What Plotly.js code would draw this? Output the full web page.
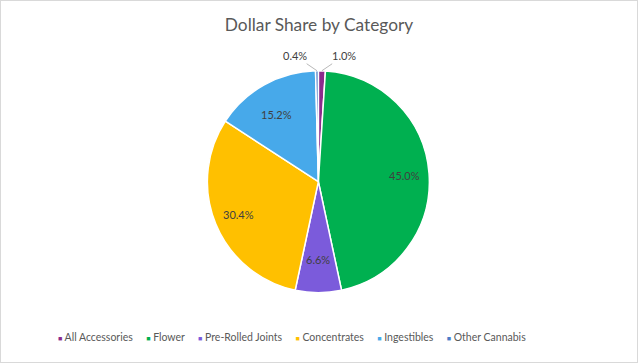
<!DOCTYPE html>
<html><head><meta charset="utf-8">
<script src="https://cdn.plot.ly/plotly-3.0.1.min.js"></script>
<style>
html,body{margin:0;padding:0;background:#fff;}
#chart{width:636px;height:361px;border:1px solid #d9d9d9;}
</style></head>
<body><div id="chart"></div>
<script>
const categories = ["All Accessories","Flower","Pre-Rolled Joints","Concentrates","Ingestibles","Other Cannabis"];
const shares = [1.0, 45.0, 6.6, 30.4, 15.2, 0.4];
const colors = ["#8A2B8C","#00B050","#7B5BDB","#FFC000","#47A9EA","#4A7CC8"];
const labelsText = shares.map(v => v.toFixed(1) + "%");

const W = 636, H = 361;
const dom = {x: [0.3245, 0.6735], y: [0.192, 0.807]};
const FONT = "Lato, 'Open Sans', sans-serif";

const trace = {
  type: "pie",
  labels: categories,
  values: shares,
  text: labelsText,
  textinfo: "none",
  hoverinfo: "label+text",
  sort: false,
  direction: "clockwise",
  rotation: 0,
  marker: {colors: colors, line: {color: "#ffffff", width: 1.5}},
  domain: dom,
  automargin: false,
  showlegend: false
};

// data labels placed from the slice angles
const total = shares.reduce((a, b) => a + b, 0);
const cx = (dom.x[0] + dom.x[1]) / 2, cy = (dom.y[0] + dom.y[1]) / 2;
const R = Math.min((dom.x[1] - dom.x[0]) * W, (dom.y[1] - dom.y[0]) * H) / 2;
const annotations = [];
let cum = 0;
shares.forEach((v, i) => {
  const mid = (cum + v / 2) / total * 2 * Math.PI;
  cum += v;
  const small = v / total < 0.03;
  const rr = small ? R : R * 0.78;
  const ax = cx + rr * Math.sin(mid) / W;
  const ay = cy + rr * Math.cos(mid) / H;
  const a = {x: ax, y: ay, xref: "paper", yref: "paper", text: labelsText[i],
    font: {family: FONT, size: 11, color: "#404040"}, showarrow: false};
  if (small) {
    const side = Math.sin(mid) >= 0 ? 1 : -1;
    Object.assign(a, {showarrow: true, arrowhead: 0, arrowwidth: 0.8, arrowcolor: "#a6a6a6",
      ax: side * 22, ay: -15, standoff: 0});
  }
  annotations.push(a);
});

// legend row
const nb = "\u00A0";
const legendText = categories.map((c, i) =>
  `<span style="color:${colors[i]};font-size:7px">■</span>${nb}${c}`).join(nb.repeat(5));
annotations.push({x: 0.458, y: 0.069, xref: "paper", yref: "paper", xanchor: "center", yanchor: "middle",
  showarrow: false, text: legendText, font: {family: FONT, size: 10.5, color: "#595959"}});

const layout = {
  width: W, height: H,
  margin: {l: 0, r: 0, t: 0, b: 0},
  paper_bgcolor: "#ffffff",
  title: {text: "Dollar Share by Category", font: {family: FONT, size: 17.3, color: "#595959"}, x: 0.5, xanchor: "center", y: 0.935, yanchor: "middle"},
  showlegend: false,
  annotations: annotations,
  font: {family: FONT}
};

Plotly.newPlot("chart", [trace], layout, {displayModeBar: false, staticPlot: true});
</script></body></html>
